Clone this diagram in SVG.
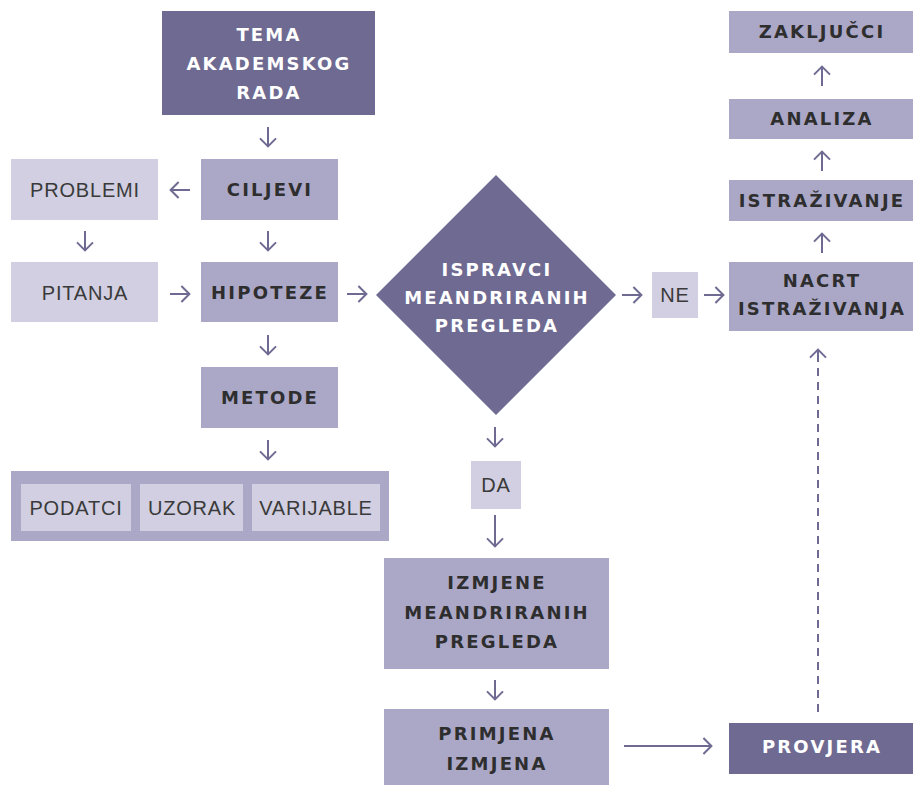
<svg xmlns="http://www.w3.org/2000/svg" width="913" height="785" viewBox="0 0 913 785">
<defs>
<marker id="chev" markerUnits="userSpaceOnUse" viewBox="-2 -2 12 20" refX="8.6" refY="8" markerWidth="12" markerHeight="20" orient="auto">
<path d="M0,0 L8,8 L0,16" fill="none" stroke="#6e6a92" stroke-width="2"/>
</marker>
<style>
.dark{fill:#6e6a92}
.mid{fill:#aba7c7}
.light{fill:#d1cfe1}
.tw{font-family:"DejaVu Sans","Liberation Sans",sans-serif;font-weight:bold;font-size:18px;letter-spacing:2.2px;fill:#ffffff;text-anchor:middle}
.td{font-family:"DejaVu Sans","Liberation Sans",sans-serif;font-weight:bold;font-size:18px;letter-spacing:2.2px;fill:#2e2e2e;text-anchor:middle}
.tn{font-family:"Liberation Sans","Inter",sans-serif;font-size:20px;letter-spacing:0.8px;fill:#3a3a3a;text-anchor:middle}
.ar{fill:none;stroke:#6e6a92;stroke-width:2;marker-end:url(#chev)}
</style>
</defs>
<rect width="913" height="785" fill="#ffffff"/>
<g id="connectors">
<path class="ar" d="M268,127 V147"/>
<path class="ar" d="M190,190 H170"/>
<path class="ar" d="M85,231 V251"/>
<path class="ar" d="M268,231 V251"/>
<path class="ar" d="M170,294 H190"/>
<path class="ar" d="M347,294 H367"/>
<path class="ar" d="M268,335 V355"/>
<path class="ar" d="M268,440 V460"/>
<path class="ar" d="M622,295 H642"/>
<path class="ar" d="M704,295 H724"/>
<path class="ar" d="M495,427 V447"/>
<path class="ar" d="M495,515 V547"/>
<path class="ar" d="M495,680 V700"/>
<path class="ar" d="M822,253 V233"/>
<path class="ar" d="M822,171 V151"/>
<path class="ar" d="M822,86 V66"/>
<path class="ar" d="M624,746 H712"/>
<path d="M818,712 V352" fill="none" stroke="#6e6a92" stroke-width="2" stroke-dasharray="8,6"/>
<path class="ar" d="M818,362 V349"/>
</g>
<g id="tema">
<rect class="dark" x="162" y="11" width="213" height="104"/>
<text class="tw" x="269" y="41">TEMA</text>
<text class="tw" x="269" y="70">AKADEMSKOG</text>
<text class="tw" x="269" y="99">RADA</text>
</g>
<g id="ciljevi">
<rect class="mid" x="201" y="159" width="137" height="61"/>
<text class="td" x="270" y="196">CILJEVI</text>
</g>
<g id="problemi">
<rect class="light" x="11" y="159" width="147" height="61"/>
<text class="tn" x="85" y="197">PROBLEMI</text>
</g>
<g id="pitanja">
<rect class="light" x="11" y="262" width="147" height="60"/>
<text class="tn" x="85" y="300">PITANJA</text>
</g>
<g id="hipoteze">
<rect class="mid" x="201" y="262" width="137" height="60"/>
<text class="td" x="270" y="299">HIPOTEZE</text>
</g>
<g id="metode">
<rect class="mid" x="201" y="367" width="137" height="61"/>
<text class="td" x="270" y="404">METODE</text>
</g>
<g id="podaci-group">
<rect class="mid" x="11" y="471" width="378" height="70"/>
<g id="podatci">
<rect class="light" x="21" y="484" width="110" height="47"/>
<text class="tn" x="76" y="515">PODATCI</text>
</g>
<g id="uzorak">
<rect class="light" x="140" y="484" width="103" height="47"/>
<text class="tn" x="192" y="515">UZORAK</text>
</g>
<g id="varijable">
<rect class="light" x="252" y="484" width="128" height="47"/>
<text class="tn" x="316" y="515">VARIJABLE</text>
</g>
</g>
<g id="ispravci">
<path class="dark" d="M496,175 L616,295 L496,415 L376,295 Z"/>
<text class="tw" x="497" y="276">ISPRAVCI</text>
<text class="tw" x="497" y="304">MEANDRIRANIH</text>
<text class="tw" x="497" y="332">PREGLEDA</text>
</g>
<g id="ne">
<rect class="light" x="652" y="272" width="46" height="46"/>
<text class="tn" x="675" y="302">NE</text>
</g>
<g id="da">
<rect class="light" x="471" y="461" width="50" height="48"/>
<text class="tn" x="496" y="492">DA</text>
</g>
<g id="zakljucci">
<rect class="mid" x="729" y="11" width="184" height="42"/>
<text class="td" x="822" y="38">ZAKLJUČCI</text>
</g>
<g id="analiza">
<rect class="mid" x="729" y="99" width="184" height="40"/>
<text class="td" x="822" y="125">ANALIZA</text>
</g>
<g id="istrazivanje">
<rect class="mid" x="729" y="180" width="184" height="41"/>
<text class="td" x="822" y="207">ISTRAŽIVANJE</text>
</g>
<g id="nacrt">
<rect class="mid" x="729" y="262" width="184" height="69"/>
<text class="td" x="822" y="287">NACRT</text>
<text class="td" x="822" y="315">ISTRAŽIVANJA</text>
</g>
<g id="izmjene">
<rect class="mid" x="384" y="558" width="225" height="111"/>
<text class="td" x="497" y="589">IZMJENE</text>
<text class="td" x="497" y="619">MEANDRIRANIH</text>
<text class="td" x="497" y="648">PREGLEDA</text>
</g>
<g id="primjena">
<rect class="mid" x="384" y="709" width="225" height="76"/>
<text class="td" x="497" y="740">PRIMJENA</text>
<text class="td" x="497" y="770">IZMJENA</text>
</g>
<g id="provjera">
<rect class="dark" x="729" y="723" width="184" height="51"/>
<text class="tw" x="822" y="753">PROVJERA</text>
</g>
</svg>
